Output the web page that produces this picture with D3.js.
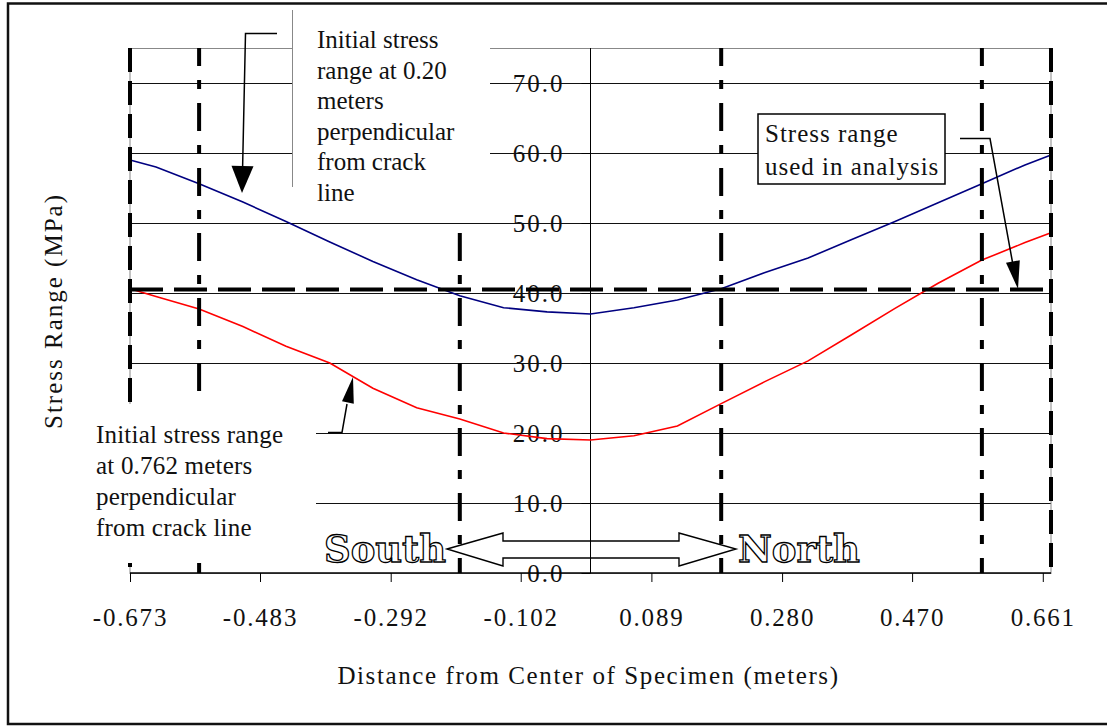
<!DOCTYPE html>
<html>
<head>
<meta charset="utf-8">
<script src="https://cdn.jsdelivr.net/npm/d3@7"></script>
<style>
  body { margin: 0; background: #fff; }
  svg { display: block; font-family: "Liberation Serif", "Times New Roman", serif; }
</style>
</head>
<body>
<svg id="chart"></svg>
<script>
// distance from specimen centre (m) and stress range (MPa)
const distance = [-0.673, -0.635, -0.572, -0.508, -0.445, -0.381, -0.318, -0.254, -0.191, -0.127, -0.0635, 0,
                  0.0635, 0.127, 0.191, 0.254, 0.318, 0.381, 0.445, 0.508, 0.572, 0.635, 0.673];
const stressAt020 = [59.0, 58.0, 55.6, 53.0, 50.2, 47.3, 44.5, 41.9, 39.6, 37.9, 37.3, 37.0,
                     37.9, 39.0, 40.6, 42.9, 45.0, 47.6, 50.2, 52.9, 55.6, 58.3, 59.7];
const stressAt0762 = [40.6, 39.5, 37.7, 35.2, 32.4, 30.0, 26.4, 23.6, 22.0, 20.0, 19.2, 19.0,
                      19.6, 21.0, 24.2, 27.3, 30.3, 34.0, 37.8, 41.4, 44.7, 47.2, 48.6];
const analysisStress = 40.5;
const boundaryLines = [-0.572, -0.191, 0.191, 0.572];
const edgeLines = [-0.673, 0.673];
const xTickValues = [-0.673, -0.483, -0.292, -0.102, 0.089, 0.280, 0.470, 0.661];
const xTickLabels = ["-0.673", "-0.483", "-0.292", "-0.102", "0.089", "0.280", "0.470", "0.661"];
const yTickValues = [0, 10, 20, 30, 40, 50, 60, 70];
const yTickLabels = ["0.0", "10.0", "20.0", "30.0", "40.0", "50.0", "60.0", "70.0"];

const width = 1107;
const height = 726;
const marginLeft = 130;
const marginRight = 56;
const marginTop = 48;
const marginBottom = 153;

const x = d3.scaleLinear()
    .domain([-0.673, 0.673])
    .range([marginLeft, width - marginRight]);

const y = d3.scaleLinear()
    .domain([0, 75])
    .range([height - marginBottom, marginTop]);

const svg = d3.select("#chart")
    .attr("width", width)
    .attr("height", height);

svg.append("rect")
    .attr("width", width).attr("height", height)
    .attr("fill", "#fff");

// outer frame (right side runs off the picture)
svg.append("rect")
    .attr("x", 8).attr("y", 3.5)
    .attr("width", 1120).attr("height", 720.5)
    .attr("fill", "none")
    .attr("stroke", "#111")
    .attr("stroke-width", 2.5);

const x0 = x.range()[0], x1 = x.range()[1];
const yBottom = y(0), yTop = y(75);

// grid
svg.append("g")
    .attr("transform", "translate(0,0.5)")
    .selectAll("line")
    .data(yTickValues.filter(d => d > 0))
    .join("line")
    .attr("x1", x0).attr("x2", x1)
    .attr("y1", d => y(d)).attr("y2", d => y(d))
    .attr("stroke", "#111")
    .attr("stroke-width", 1);

// plot frame
svg.append("rect")
    .attr("x", x0).attr("y", yTop + 0.5)
    .attr("width", x1 - x0).attr("height", yBottom - yTop)
    .attr("fill", "none")
    .attr("stroke", "#888")
    .attr("stroke-width", 1);

// y axis through zero
const yAxis = d3.axisLeft(y)
    .tickValues(yTickValues)
    .tickFormat((d, i) => yTickLabels[i])
    .tickSize(9)
    .tickPadding(17);

svg.append("g")
    .attr("transform", `translate(${x(0)},0)`)
    .call(yAxis)
    .call(g => g.select(".domain").attr("d", `M0,${yTop}V${yBottom}`).attr("stroke", "#000"))
    .call(g => g.selectAll(".tick line").attr("stroke", "#000"))
    .call(g => g.selectAll(".tick text")
        .attr("font-family", "Liberation Serif, Times New Roman, serif")
        .attr("font-size", 25)
        .attr("letter-spacing", 2)
        .attr("fill", "#111"));

// series
const line = d3.line()
    .x(d => x(d[0]))
    .y(d => y(d[1]));

svg.append("path")
    .datum(d3.zip(distance, stressAt020))
    .attr("fill", "none")
    .attr("stroke", "#000080")
    .attr("stroke-width", 1.6)
    .attr("d", line);

svg.append("path")
    .datum(d3.zip(distance, stressAt0762))
    .attr("fill", "none")
    .attr("stroke", "#ff0000")
    .attr("stroke-width", 1.6)
    .attr("d", line);

// dash-dot boundary lines
svg.append("g")
    .selectAll("line")
    .data(boundaryLines)
    .join("line")
    .attr("x1", d => x(d)).attr("x2", d => x(d))
    .attr("y1", yTop).attr("y2", yBottom)
    .attr("stroke", "#000")
    .attr("stroke-width", 4)
    .attr("stroke-dasharray", "28,14,9,14")
    .attr("stroke-dashoffset", 10);

svg.append("g")
    .selectAll("line")
    .data(edgeLines)
    .join("line")
    .attr("x1", d => x(d)).attr("x2", d => x(d))
    .attr("y1", yTop).attr("y2", yBottom)
    .attr("stroke", "#000")
    .attr("stroke-width", 4)
    .attr("stroke-dasharray", "24,9");

// stress range used in analysis
svg.append("line")
    .attr("x1", x0).attr("x2", x(0.664))
    .attr("y1", y(analysisStress)).attr("y2", y(analysisStress))
    .attr("stroke", "#000")
    .attr("stroke-width", 4)
    .attr("stroke-dasharray", "33,11");

// x axis
const xAxis = d3.axisBottom(x)
    .tickValues(xTickValues)
    .tickFormat((d, i) => xTickLabels[i])
    .tickSize(9)
    .tickSizeOuter(0)
    .tickPadding(26);

svg.append("g")
    .attr("transform", `translate(0,${yBottom})`)
    .call(xAxis)
    .call(g => g.select(".domain").attr("d", `M${x0},0H${x1}`).attr("stroke", "#000").attr("stroke-width", 1.5))
    .call(g => g.selectAll(".tick line").attr("stroke", "#000"))
    .call(g => g.selectAll(".tick text")
        .attr("font-family", "Liberation Serif, Times New Roman, serif")
        .attr("font-size", 25)
        .attr("letter-spacing", 1.8)
        .attr("fill", "#111"));

// axis titles
svg.append("text")
    .attr("x", (x0 + x1) / 2 - 2)
    .attr("y", 684)
    .attr("text-anchor", "middle")
    .attr("font-size", 25)
    .attr("letter-spacing", 1.6)
    .attr("fill", "#111")
    .text("Distance from Center of Specimen (meters)");

svg.append("text")
    .attr("transform", "translate(62,311) rotate(-90)")
    .attr("text-anchor", "middle")
    .attr("font-size", 25)
    .attr("letter-spacing", 2)
    .attr("fill", "#111")
    .text("Stress Range (MPa)");

// annotation helpers
function arrowHead(g, from, tip, len, half) {
    const dx = tip[0] - from[0], dy = tip[1] - from[1];
    const n = Math.hypot(dx, dy);
    const ux = dx / n, uy = dy / n;
    const bx = tip[0] - ux * len, by = tip[1] - uy * len;
    g.append("path")
        .attr("d", `M${tip[0]},${tip[1]}L${bx - uy * half},${by + ux * half}L${bx + uy * half},${by - ux * half}Z`)
        .attr("fill", "#000");
}

function textBlock(g, lines, tx, ty, step, spacing) {
    const t = g.append("text")
        .attr("font-size", 25)
        .attr("letter-spacing", spacing)
        .attr("fill", "#111");
    lines.forEach((s, i) => t.append("tspan").attr("x", tx).attr("y", ty + i * step).text(s));
}

const notes = svg.append("g");

// note for 0.20 m curve
notes.append("rect")
    .attr("x", 292).attr("y", 8).attr("width", 198).attr("height", 213)
    .attr("fill", "#fff");
notes.append("line")
    .attr("x1", 292.5).attr("x2", 292.5).attr("y1", 10).attr("y2", 187)
    .attr("stroke", "#888");
textBlock(notes, ["Initial stress", "range at 0.20", "meters", "perpendicular", "from crack", "line"],
    317, 48, 30.5, 0);
notes.append("path")
    .attr("d", "M277,33.5H245.5L242.5,172")
    .attr("fill", "none").attr("stroke", "#000").attr("stroke-width", 1.5);
arrowHead(notes, [245, 33], [242, 193], 27, 11);

// note for analysis stress
notes.append("rect")
    .attr("x", 758).attr("y", 114).attr("width", 187).attr("height", 70)
    .attr("fill", "#fff").attr("stroke", "#000").attr("stroke-width", 1.5);
textBlock(notes, ["Stress range", "used in analysis"], 765, 142, 33, 1);
notes.append("path")
    .attr("d", "M960,138.5H990L1013,265")
    .attr("fill", "none").attr("stroke", "#000").attr("stroke-width", 1.5);
arrowHead(notes, [990, 138], [1018, 289], 28, 7);

// note for 0.762 m curve
notes.append("rect")
    .attr("x", 88).attr("y", 404).attr("width", 228).attr("height", 159)
    .attr("fill", "#fff");
textBlock(notes, ["Initial stress range", "at 0.762 meters", "perpendicular", "from crack line"],
    96, 443, 31, 0.2);
notes.append("path")
    .attr("d", "M328,432.5H342L347,404")
    .attr("fill", "none").attr("stroke", "#000").attr("stroke-width", 1.5);
arrowHead(notes, [342, 432], [353, 377], 26, 6);

// South / North double arrow
notes.append("path")
    .attr("d", "M447,549L503,533L503,541L679,541L679,533L736,549L679,566L679,558L503,558L503,566Z")
    .attr("fill", "none").attr("stroke", "#000").attr("stroke-width", 1.4);

[["South", 324], ["North", 738]].forEach(([s, tx]) => {
    notes.append("text")
        .attr("x", tx).attr("y", 562)
        .attr("font-family", "DejaVu Serif, serif")
        .attr("font-weight", "bold")
        .attr("font-size", 38)
        .attr("textLength", 122)
        .attr("lengthAdjust", "spacingAndGlyphs")
        .attr("fill", "#fff")
        .attr("stroke", "#000")
        .attr("stroke-width", 1.3)
        .text(s);
});
</script>
</body>
</html>
